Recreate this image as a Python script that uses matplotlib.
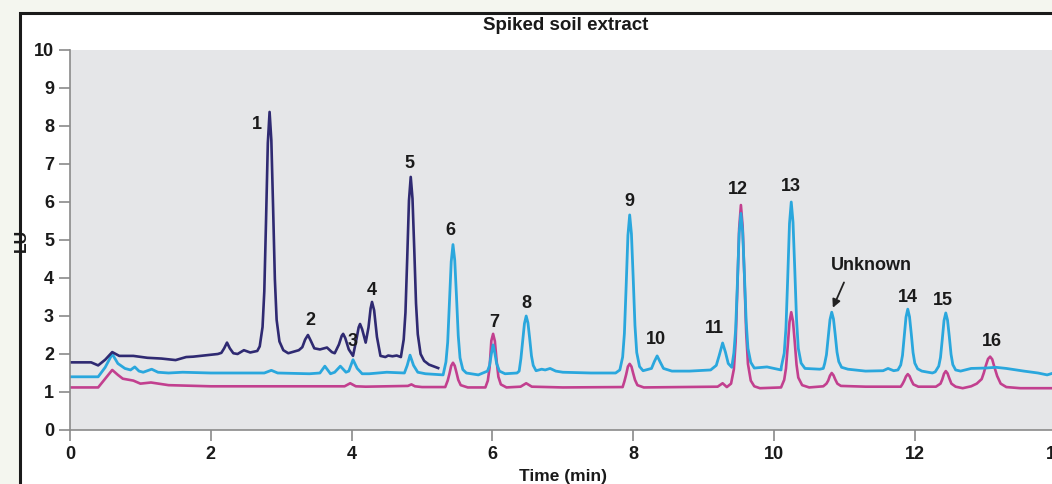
import matplotlib
matplotlib.use("Agg")
import matplotlib.pyplot as plt
from matplotlib.patches import Rectangle

plt.rcParams['font.family'] = ['Liberation Sans', 'DejaVu Sans']

# trace 1 (dark): time (min), LU
dark_t = [0.0, 0.30, 0.40, 0.50, 0.60, 0.70, 0.90, 1.10, 1.30, 1.50, 1.65, 1.75, 1.90, 2.10,
          2.15, 2.19, 2.23, 2.27, 2.32, 2.38, 2.47, 2.56, 2.66,
          2.695, 2.735, 2.76, 2.785, 2.81, 2.835, 2.86, 2.885, 2.91, 2.935, 2.975, 3.03,
          3.10, 3.25, 3.30, 3.34, 3.38, 3.42, 3.47, 3.55, 3.65, 3.72, 3.76,
          3.82, 3.86, 3.88, 3.91, 3.96, 4.02, 4.07, 4.10, 4.12, 4.15, 4.20,
          4.24, 4.27, 4.29, 4.32, 4.36, 4.41, 4.48, 4.52, 4.58, 4.64, 4.70,
          4.74, 4.765, 4.79, 4.815, 4.84, 4.865, 4.89, 4.915, 4.94, 4.98, 5.03, 5.10, 5.23]
dark_y = [1.78, 1.78, 1.70, 1.85, 2.05, 1.95, 1.95, 1.90, 1.88, 1.84, 1.92, 1.93, 1.96, 2.00,
          2.03, 2.15, 2.30, 2.15, 2.02, 2.00, 2.10, 2.04, 2.08,
          2.20, 2.71, 3.65, 5.54, 7.55, 8.37, 7.62, 5.85, 3.97, 2.90, 2.33, 2.10,
          2.02, 2.10, 2.18, 2.38, 2.50, 2.35, 2.15, 2.12, 2.17, 2.05, 2.02,
          2.25, 2.48, 2.53, 2.42, 2.12, 1.95, 2.40, 2.70, 2.79, 2.65, 2.30,
          2.70, 3.20, 3.37, 3.15, 2.45, 1.95, 1.92, 1.96, 1.94, 1.96, 1.92,
          2.38, 3.09, 4.52, 6.04, 6.66, 6.09, 4.76, 3.33, 2.52, 2.00, 1.82, 1.72, 1.63]

# trace 2 (cyan)
cyan_t = [0.0, 0.40, 0.50, 0.60, 0.68, 0.78, 0.86, 0.92, 0.98, 1.04, 1.16, 1.25, 1.40, 1.60, 2.00,
          2.50, 2.76, 2.86, 2.95, 3.40, 3.55, 3.62, 3.70, 3.76, 3.84, 3.92, 3.96, 4.02, 4.08, 4.15,
          4.25, 4.50, 4.75, 4.79, 4.83, 4.88, 4.94, 5.05,
          5.30, 5.34, 5.365, 5.39, 5.415, 5.44, 5.465, 5.49, 5.515, 5.54, 5.58, 5.63,
          5.80, 5.93, 5.96, 5.985, 6.01, 6.035, 6.06, 6.10, 6.18, 6.35,
          6.38, 6.405, 6.43, 6.455, 6.48, 6.505, 6.53, 6.555, 6.58, 6.62, 6.70, 6.75, 6.82, 6.90,
          7.00, 7.40, 7.75,
          7.81, 7.85, 7.875, 7.90, 7.925, 7.95, 7.975, 8.00, 8.025, 8.05, 8.09, 8.14, 8.22,
          8.26, 8.30, 8.34, 8.38, 8.43, 8.55, 8.80, 9.10, 9.18, 9.22, 9.27, 9.31, 9.35, 9.40,
          9.43, 9.455, 9.48, 9.505, 9.53, 9.555, 9.58, 9.605, 9.63, 9.67, 9.72, 9.90, 10.10,
          10.105, 10.145, 10.17, 10.195, 10.22, 10.245, 10.27, 10.295, 10.32, 10.345, 10.385, 10.44,
          10.65, 10.70, 10.72, 10.745, 10.77, 10.795, 10.82, 10.845, 10.87, 10.895, 10.92, 10.96,
          11.05, 11.30, 11.55, 11.62, 11.70, 11.76,
          11.80, 11.825, 11.85, 11.875, 11.90, 11.925, 11.95, 11.975, 12.00, 12.04, 12.10, 12.25,
          12.29, 12.34, 12.365, 12.39, 12.415, 12.44, 12.465, 12.49, 12.515, 12.54, 12.58, 12.65,
          12.80, 13.00, 13.15, 13.30, 13.55, 13.75, 13.88, 13.97]
cyan_y = [1.40, 1.40, 1.65, 2.00, 1.75, 1.62, 1.58, 1.66, 1.55, 1.52, 1.60, 1.52, 1.50, 1.52, 1.50,
          1.50, 1.50, 1.57, 1.50, 1.48, 1.50, 1.68, 1.48, 1.52, 1.68, 1.52, 1.55, 1.85, 1.62, 1.48,
          1.48, 1.52, 1.50, 1.70, 1.97, 1.70, 1.52, 1.48,
          1.45, 1.79, 2.31, 3.34, 4.43, 4.88, 4.47, 3.51, 2.48, 1.90, 1.59, 1.50,
          1.45, 1.55, 1.70, 2.00, 2.24, 2.02, 1.75, 1.55, 1.48, 1.50,
          1.55, 1.88, 2.33, 2.80, 3.00, 2.82, 2.40, 1.95, 1.70, 1.56, 1.60, 1.58, 1.62, 1.55,
          1.52, 1.50, 1.50,
          1.58, 1.92, 2.54, 3.79, 5.12, 5.66, 5.16, 4.00, 2.75, 2.04, 1.67, 1.56, 1.60,
          1.62, 1.80, 1.95, 1.80, 1.62, 1.55, 1.55, 1.58, 1.70, 1.95, 2.29, 2.05, 1.75, 1.65,
          2.03, 2.64, 3.86, 5.17, 5.70, 5.21, 4.07, 2.84, 2.15, 1.78, 1.63, 1.66, 1.58,
          1.67, 2.02, 2.69, 4.01, 5.43, 6.00, 5.47, 4.23, 2.91, 2.15, 1.76, 1.62,
          1.60, 1.62, 1.75, 1.98, 2.43, 2.90, 3.10, 2.92, 2.50, 2.05, 1.80, 1.65,
          1.60, 1.55, 1.56, 1.62, 1.56, 1.58,
          1.71, 1.96, 2.45, 2.97, 3.18, 2.98, 2.53, 2.04, 1.76, 1.61, 1.55, 1.50,
          1.53, 1.68, 1.91, 2.38, 2.88, 3.08, 2.89, 2.46, 1.99, 1.72, 1.58, 1.55,
          1.62, 1.63, 1.65, 1.62, 1.55, 1.50, 1.45, 1.50]

# trace 3 (magenta)
mag_t = [0.0, 0.40, 0.50, 0.60, 0.68, 0.75, 0.90, 1.00, 1.15, 1.40, 2.00, 3.00, 3.90, 3.98, 4.06,
         4.20, 4.80, 4.85, 4.90, 5.00, 5.33,
         5.365, 5.39, 5.415, 5.44, 5.465, 5.49, 5.515, 5.55, 5.65, 5.90,
         5.935, 5.96, 5.985, 6.01, 6.035, 6.06, 6.085, 6.12, 6.20, 6.40, 6.48, 6.56, 7.00, 7.85,
         7.875, 7.90, 7.925, 7.95, 7.975, 8.00, 8.025, 8.06, 8.15, 9.20, 9.27, 9.33,
         9.39, 9.43, 9.455, 9.48, 9.505, 9.53, 9.555, 9.58, 9.605, 9.63, 9.67, 9.72, 9.80, 10.10,
         10.145, 10.17, 10.195, 10.22, 10.245, 10.27, 10.295, 10.32, 10.345, 10.40, 10.50, 10.70,
         10.745, 10.77, 10.795, 10.82, 10.845, 10.87, 10.90, 10.95, 11.30, 11.80,
         11.825, 11.85, 11.875, 11.90, 11.925, 11.95, 11.98, 12.05, 12.30,
         12.365, 12.39, 12.415, 12.44, 12.465, 12.49, 12.52, 12.58, 12.68, 12.80, 12.88, 12.95,
         12.98, 13.01, 13.04, 13.07, 13.10, 13.13, 13.17, 13.22, 13.30, 13.50, 13.97]
mag_y = [1.12, 1.12, 1.35, 1.58, 1.45, 1.35, 1.30, 1.22, 1.25, 1.18, 1.15, 1.15, 1.15, 1.23, 1.15,
         1.14, 1.16, 1.20, 1.15, 1.13, 1.13,
         1.30, 1.48, 1.69, 1.77, 1.69, 1.51, 1.32, 1.18, 1.12, 1.12,
         1.30, 1.64, 2.35, 2.53, 2.34, 1.82, 1.40, 1.20, 1.12, 1.14, 1.23, 1.14, 1.12, 1.13,
         1.28, 1.46, 1.67, 1.74, 1.67, 1.49, 1.32, 1.18, 1.12, 1.14, 1.23, 1.13,
         1.22, 1.60, 2.32, 3.76, 5.30, 5.92, 5.34, 4.00, 2.56, 1.74, 1.30, 1.15, 1.10, 1.12,
         1.32, 1.62, 2.21, 2.84, 3.10, 2.86, 2.31, 1.72, 1.38, 1.18, 1.12, 1.15,
         1.22, 1.30, 1.43, 1.50, 1.44, 1.33, 1.22, 1.16, 1.14, 1.14,
         1.21, 1.30, 1.41, 1.47, 1.42, 1.31, 1.20, 1.14, 1.14,
         1.22, 1.33, 1.48, 1.55, 1.49, 1.36, 1.22, 1.14, 1.10, 1.15, 1.22, 1.34,
         1.50, 1.70, 1.87, 1.93, 1.86, 1.66, 1.42, 1.22, 1.13, 1.10, 1.10]

peak_labels = ['1', '2', '3', '4', '5', '6', '7', '8', '9', '10', '11', '12', '13', 'Unknown', '14', '15', '16']
label_t = [2.66, 3.41, 4.02, 4.29, 4.82, 5.41, 6.02, 6.48, 7.94, 8.32, 9.16, 9.49, 10.24, 11.38, 11.90, 12.40, 13.10]
label_y = [8.03, 2.89, 2.32, 3.66, 7.00, 5.24, 2.84, 3.34, 6.00, 2.37, 2.68, 6.32, 6.42, 4.34, 3.50, 3.42, 2.32]

fig = plt.figure(figsize=(10.52, 4.84), dpi=100)
fig.patch.set_facecolor('#f4f6ef')

# white panel with black frame (runs off right and bottom edges)
fig.patches.append(Rectangle((20 / 1052, -0.05), 1.1, 1 - 13 / 484 + 0.05, transform=fig.transFigure,
                             facecolor='white', edgecolor='#1a1a1a', linewidth=2.2, zorder=-10))

ax = fig.add_axes([70 / 1052, 54 / 484, 985.6 / 1052, 380 / 484])
ax.set_facecolor('#e5e6e8')
ax.set_xlim(0, 14)
ax.set_ylim(0, 10)

ax.plot(mag_t, mag_y, color='#c2408f', lw=1.9, solid_joinstyle='round')
ax.plot(cyan_t, cyan_y, color='#2aa7dd', lw=2.0, solid_joinstyle='round')
ax.plot(dark_t, dark_y, color='#2f2a72', lw=1.9, solid_joinstyle='round')

for s, t, y in zip(peak_labels, label_t, label_y):
    ax.text(t, y, s, ha='center', va='center', fontsize=13, fontweight='bold', color='#1a1a1a')

ax.annotate('', xy=(10.82, 3.15), xytext=(11.01, 3.95),
            arrowprops=dict(arrowstyle='-|>', color='#222222', lw=1.3, mutation_scale=12))

for side in ['top', 'right']:
    ax.spines[side].set_visible(False)
for side in ['left', 'bottom']:
    ax.spines[side].set_color('#8a8a8a')
    ax.spines[side].set_linewidth(1.2)

ax.set_xticks(range(0, 15, 2))
ax.set_yticks(range(0, 11))
ax.tick_params(axis='both', colors='#8a8a8a', length=8, width=1.2, labelsize=13, labelcolor='#1a1a1a')
for lab in ax.get_xticklabels() + ax.get_yticklabels():
    lab.set_fontweight('bold')

ax.set_xlabel('Time (min)', fontsize=12.5, fontweight='bold', color='#1a1a1a', labelpad=4)
ax.set_ylabel('LU', fontsize=12.5, fontweight='bold', color='#1a1a1a')
ax.yaxis.set_label_coords(-0.0415, 0.5)
fig.text(566 / 1052, 1 - 25 / 484, 'Spiked soil extract', ha='center', va='center',
         fontsize=13.5, fontweight='bold', color='#1a1a1a')

fig.savefig('out.png', dpi=100, facecolor=fig.get_facecolor())
